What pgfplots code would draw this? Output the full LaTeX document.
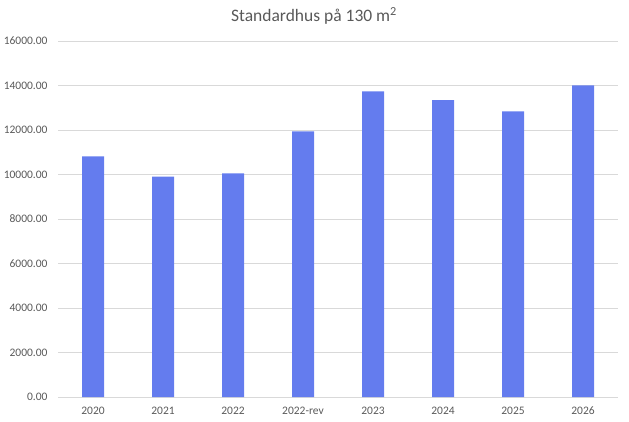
\documentclass[border=0pt]{standalone}
\usepackage{fontspec}
\setmainfont{Carlito}
\usepackage{pgfplots}
\pgfplotsset{compat=1.18}
\definecolor{barblue}{RGB}{100,124,238}
\definecolor{gridgray}{RGB}{217,217,217}
\definecolor{txtgray}{RGB}{89,89,89}
\begin{document}
\begin{tikzpicture}
\begin{axis}[
  at={(0,0)}, anchor=south west,
  scale only axis,
  width=560bp, height=356bp,
  xmin=-0.5, xmax=7.5,
  ymin=0, ymax=16000,
  ytick={0,2000,...,16000},
  xtick={0,1,2,3,4,5,6,7},
  xticklabels={2020,2021,2022,2022-rev,2023,2024,2025,2026},
  ymajorgrids,
  grid style={gridgray, line width=0.75bp},
  axis line style={draw=none},
  axis x line*=bottom,
  x axis line style={gridgray, line width=0.75bp},
  major tick length=0pt,
  tick style={draw=none},
  ybar, bar width=22bp,
  /pgf/number format/assume math mode=true,
  /pgf/number format/fixed,
  /pgf/number format/fixed zerofill,
  /pgf/number format/precision=2,
  /pgf/number format/1000 sep={},
  yticklabel style={font=\fontsize{11.5bp}{13bp}\selectfont, text=txtgray, xshift=-7bp},
  xticklabel style={font=\fontsize{11.5bp}{13bp}\selectfont, text=txtgray, yshift=-5bp, text height=8.5bp, text depth=0bp},
  scaled y ticks=false,
  clip=false,
]
\addplot[fill=barblue, draw=none] coordinates {
  (0,10810) (1,9910) (2,10050) (3,11940) (4,13740) (5,13340) (6,12840) (7,14010)
};
\end{axis}
\node[text=txtgray, font=\fontsize{17.5bp}{20bp}\selectfont] at (256bp,381bp) {Standardhus på 130 m\textsuperscript{2}};
\pgfresetboundingbox
\path[use as bounding box] (-58bp,-25bp) rectangle (571bp,397bp);
\end{tikzpicture}
\end{document}
